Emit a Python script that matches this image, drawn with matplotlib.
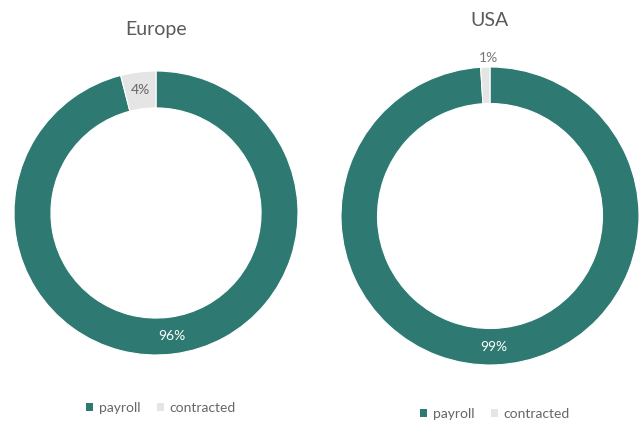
import matplotlib
matplotlib.use("Agg")
import matplotlib.pyplot as plt
from matplotlib.patches import Patch
import numpy as np

regions = ["Europe", "USA"]
categories = ["payroll", "contracted"]
europe_values = [96, 4]
usa_values = [99, 1]

teal = "#2e7a72"
light = "#e5e5e5"
W, H = 643, 421

plt.rcParams["font.family"] = ["Lato", "DejaVu Sans"]
fig = plt.figure(figsize=(W / 100, H / 100), dpi=100)
fig.patch.set_facecolor("white")


def donut(values, title, cx, cy, r, width, title_y, legend_y, legend_x):
    ax = fig.add_axes([(cx - r) / W, (H - cy - r) / H, 2 * r / W, 2 * r / H])
    wedges, _ = ax.pie(values, colors=[teal, light], startangle=90,
                       counterclock=False, radius=1,
                       wedgeprops=dict(width=width, edgecolor="white", linewidth=0.8))
    for w, v, col in zip(wedges, values, ["white", "#666666"]):
        ang = np.deg2rad((w.theta1 + w.theta2) / 2)
        if v < 3:
            # thin slices get their label just outside the ring
            rr, col, dx = 1.06, "#777777", 0.02
        else:
            rr, dx = 1 - width / 2, 0
        ax.text(rr * np.cos(ang) + dx, rr * np.sin(ang), f"{v}%", ha="center",
                va="center", color=col, fontsize=10)
    ax.set_xlim(-1, 1)
    ax.set_ylim(-1, 1)
    ax.set_aspect("equal")
    ax.axis("off")
    fig.text(cx / W, 1 - title_y / H, title, ha="center", va="center",
             fontsize=14, color="#5a5a5a")
    handles = [Patch(facecolor=teal), Patch(facecolor=light)]
    fig.legend(handles, categories, loc="center", ncol=2, frameon=False,
               bbox_to_anchor=(legend_x / W, 1 - legend_y / H),
               fontsize=10, labelcolor="#666666",
               handlelength=0.5, handleheight=0.5, handletextpad=0.4,
               columnspacing=1.2)


donut(europe_values, regions[0], 156, 213, 142, 0.26, 30, 408, 161)
donut(usa_values, regions[1], 490, 216, 149, 0.245, 20, 414, 495)

fig.savefig("out.png", dpi=100, facecolor="white")
